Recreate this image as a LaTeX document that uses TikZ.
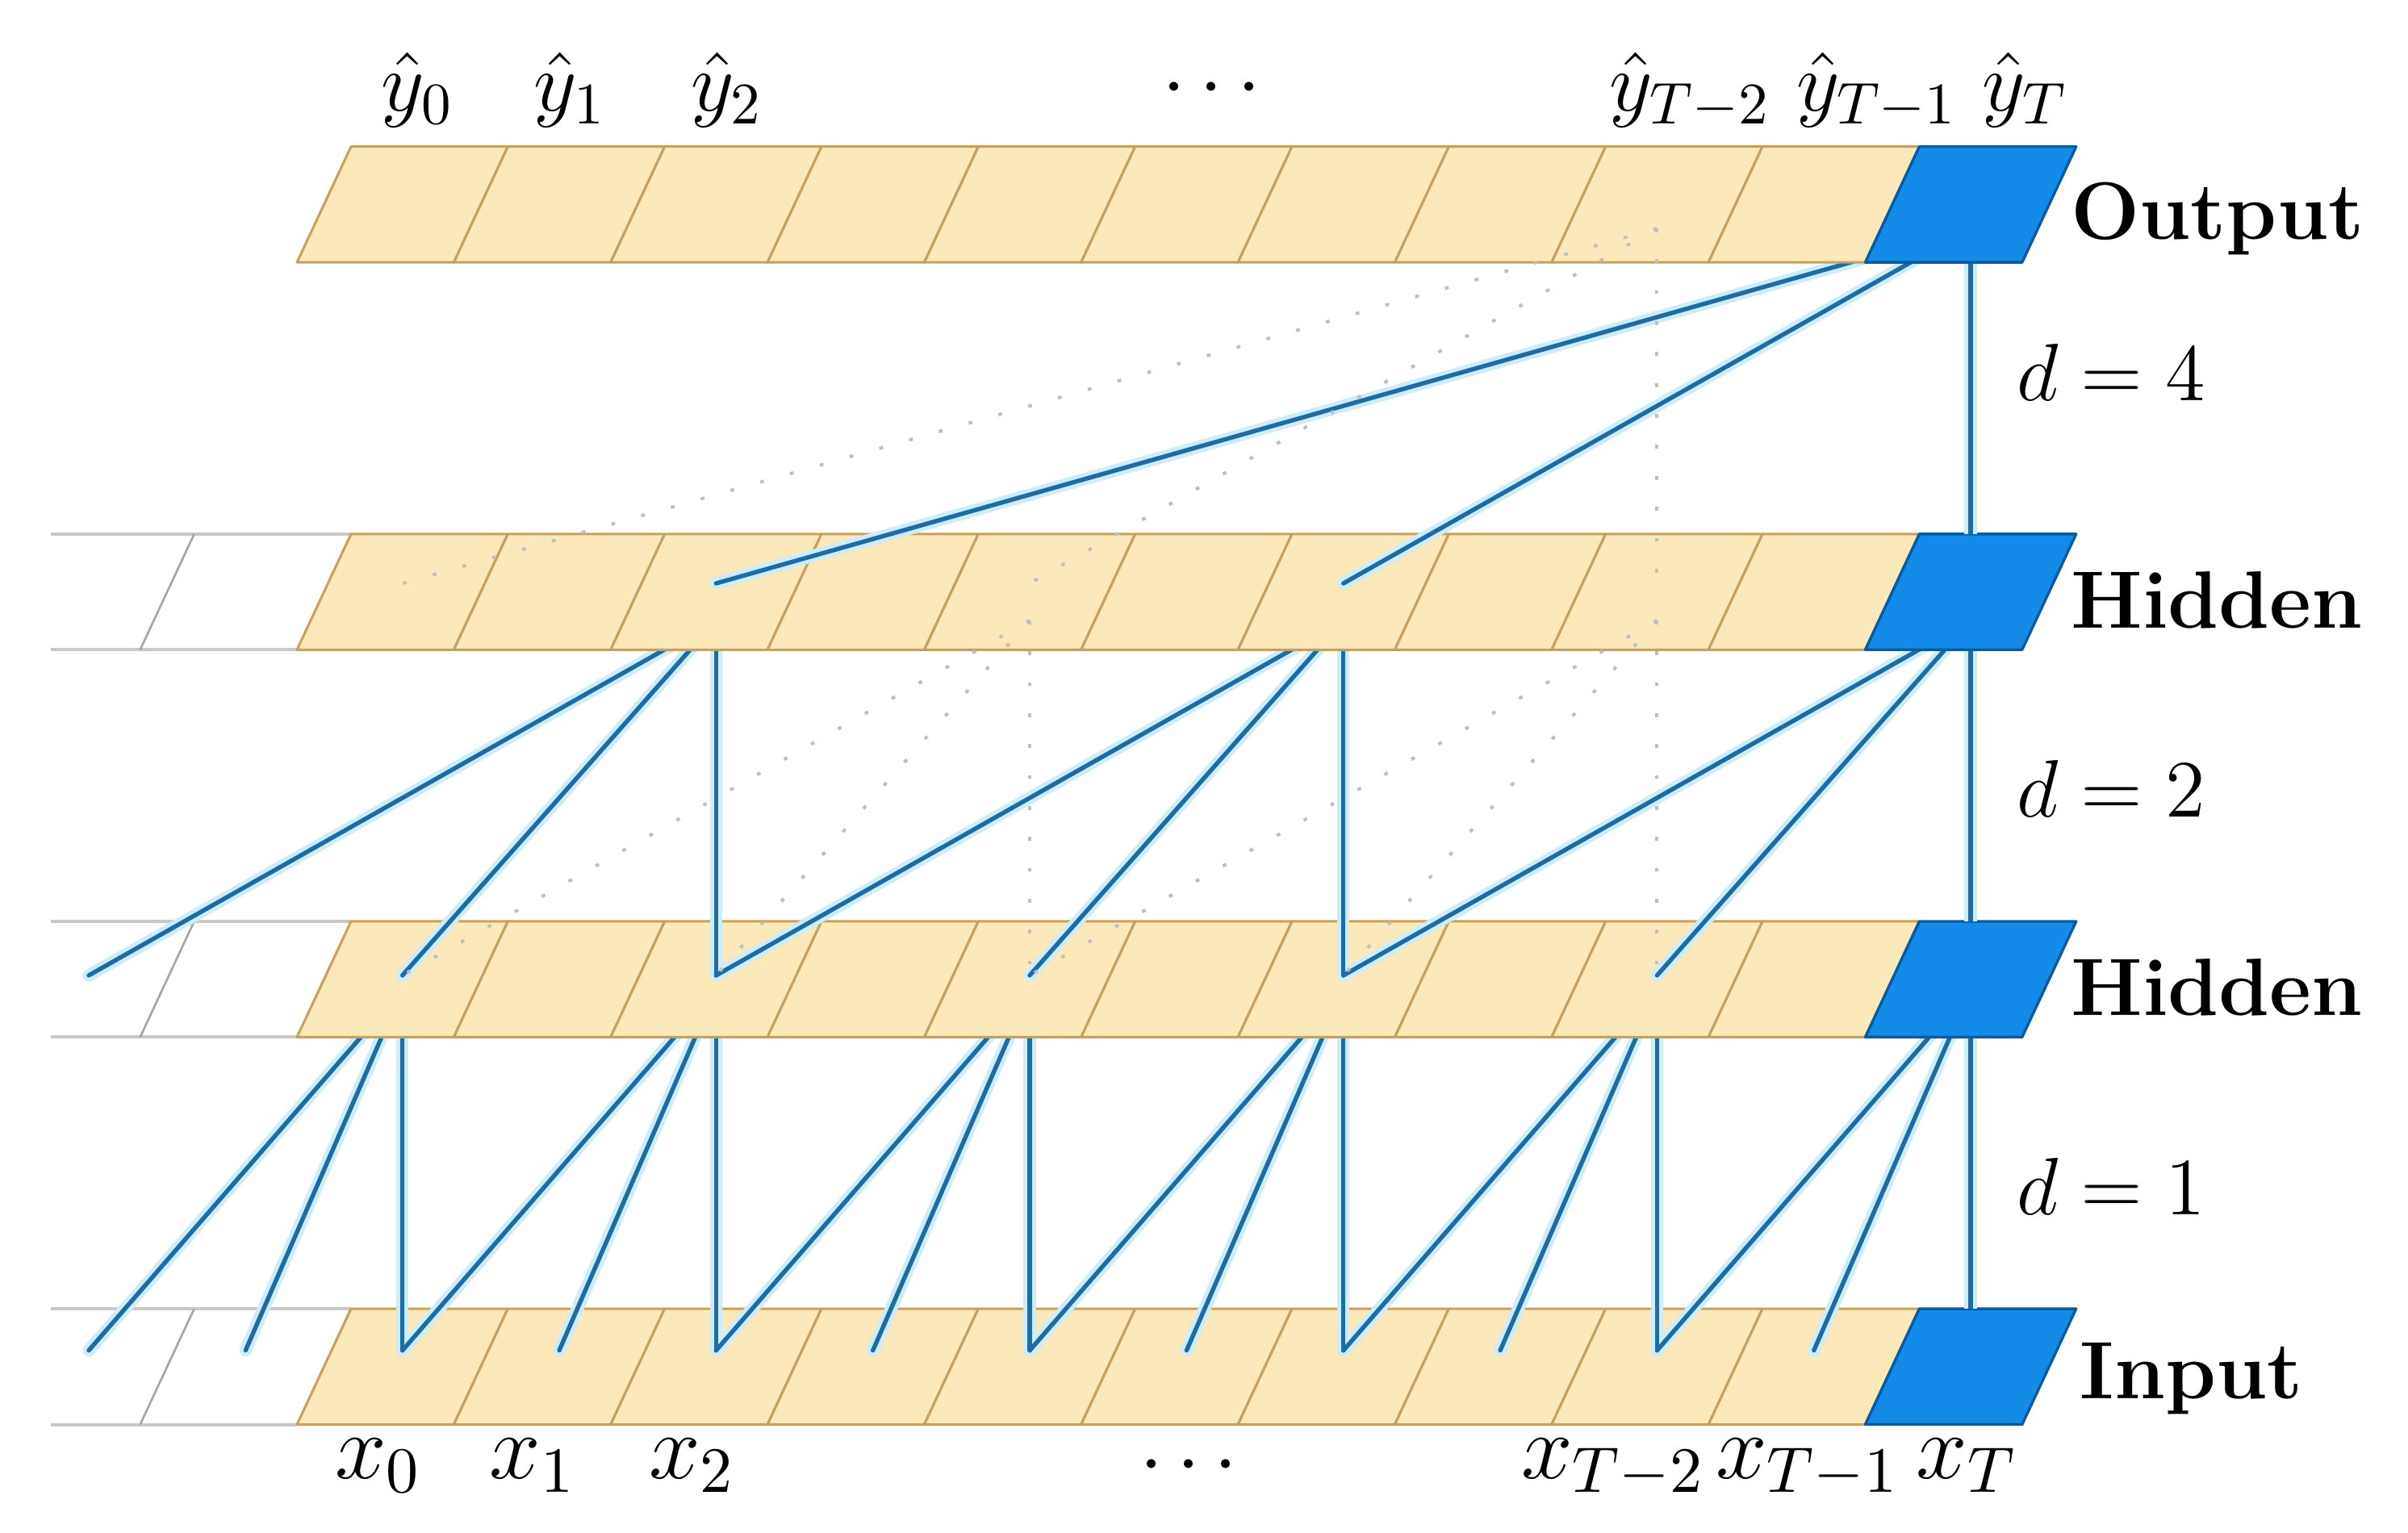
\documentclass[tikz,border=0pt]{standalone}
\DeclareFontFamily{OML}{cmm}{\skewchar\font'177}
\DeclareFontShape{OML}{cmm}{m}{it}{<-6>cmmi5<6-7>cmmi6<7-8>cmmi7<8-9>cmmi8<9-10>cmmi9<10-12>cmmi10<12->cmmi12}{}
\DeclareFontFamily{OMS}{cmsy}{\skewchar\font'60}
\DeclareFontShape{OMS}{cmsy}{m}{n}{<-6>cmsy5<6-7>cmsy6<7-8>cmsy7<8-9>cmsy8<9-10>cmsy9<10->cmsy10}{}
\DeclareFontFamily{OT1}{cmr}{\hyphenchar\font45}
\DeclareFontShape{OT1}{cmr}{m}{n}{<-6>cmr5<6-7>cmr6<7-8>cmr7<8-9>cmr8<9-10>cmr9<10-12>cmr10<12-17>cmr12<17->cmr17}{}
\definecolor{beige}{RGB}{251,233,186}
\definecolor{tanline}{RGB}{200,160,92}
\definecolor{cellblue}{RGB}{18,140,232}
\definecolor{cellblueline}{RGB}{10,90,160}
\definecolor{linkblue}{RGB}{28,108,165}
\definecolor{halo}{RGB}{205,237,250}
\definecolor{ghost}{RGB}{200,200,200}

\newcommand{\cellrow}[2]{%
  \pgfmathsetmacro{\rt}{#1}%
  \pgfmathsetmacro{\rb}{#1+75}%
  \ifnum#2=1
    \draw[ghostline] (33,\rt) -- (227.4,\rt);
    \draw[ghostline] (33,\rb) -- (192.4,\rb);
    \draw[ghostdiv] (90.8,\rb) -- (125.8,\rt);
  \fi
  \foreach \i in {0,...,9} {
    \pgfmathsetmacro{\xb}{192.4+101.6*\i}
    \draw[cellbeige] (\xb,\rb) -- ++(101.6,0) -- ++(35,-75) -- ++(-101.6,0) -- cycle;
  }
  \draw[cellbluestyle] (1208.4,\rb) -- ++(101.6,0) -- ++(35,-75) -- ++(-101.6,0) -- cycle;
}

\begin{document}
\begin{tikzpicture}[x=0.01cm,y=-0.01cm,
  cellbeige/.style={fill=beige,draw=tanline,line width=0.45pt,line join=round},
  cellbluestyle/.style={fill=cellblue,draw=cellblueline,line width=0.5pt,line join=round},
  ghostline/.style={draw=ghost,line width=0.6pt},
  ghostdiv/.style={draw=black!35,line width=0.4pt},
  haloline/.style={draw=halo,line width=2.3pt,line cap=round},
  link/.style={draw=linkblue,line width=0.8pt,line cap=round},
  flat/.style={line cap=butt},
  faint/.style={draw=black!25,line width=0.6pt,dash pattern=on 0.7pt off 5pt},
  lbl/.style={inner sep=0pt,anchor=base,font=\fontsize{15.5}{18}\selectfont},
  xlbl/.style={inner sep=0pt,anchor=base,font=\fontsize{17}{20}\selectfont},
  rowlbl/.style={inner sep=0pt,anchor=base west,font=\fontsize{15}{18}\selectfont\bfseries},
  dlbl/.style={inner sep=0pt,anchor=base west,font=\fontsize{15}{18}\selectfont},
]
\fill[white] (0,0) rectangle (1560,992.8);
\useasboundingbox (0,0) rectangle (1560,992.8);

% connection points of each cell
\foreach \i in {-2,...,9} {
  \pgfmathsetmacro{\cx}{260.7+101.6*\i}
  \coordinate (os\i) at (\cx,148);
  \coordinate (ut\i) at (\cx,378);
  \coordinate (us\i) at (\cx,402);
  \coordinate (lt\i) at (\cx,632);
  \coordinate (ls\i) at (\cx,641);
  \coordinate (nt\i) at (\cx,875);
}
% the last (blue) cells: links end on their top edge
\coordinate (os10) at (1276.7,148);
\coordinate (ut10) at (1276.7,346);
\coordinate (us10) at (1276.7,402);
\coordinate (lt10) at (1276.7,597);
\coordinate (ls10) at (1276.7,641);
\coordinate (nt10) at (1276.7,848);

% input row
\cellrow{848}{1}
% d = 1 connections
\foreach \j in {0,2,...,10} {
  \pgfmathtruncatemacro{\a}{\j-2}
  \pgfmathtruncatemacro{\b}{\j-1}
  \draw[haloline] (ls\j) -- (nt\a);
  \draw[haloline] (ls\j) -- (nt\b);
}
\foreach \j in {0,2,...,8} { \draw[haloline] (ls\j) -- (nt\j); }
\draw[haloline,flat] (ls10) -- (nt10);
\foreach \j in {0,2,...,10} {
  \pgfmathtruncatemacro{\a}{\j-2}
  \pgfmathtruncatemacro{\b}{\j-1}
  \draw[link] (ls\j) -- (nt\a);
  \draw[link] (ls\j) -- (nt\b);
}
\foreach \j in {0,2,...,8} { \draw[link] (ls\j) -- (nt\j); }
\draw[link,flat] (ls10) -- (nt10);

% lower hidden row
\cellrow{597}{1}
% d = 2 connections
\foreach \j in {2,6,10} {
  \pgfmathtruncatemacro{\a}{\j-4}
  \pgfmathtruncatemacro{\b}{\j-2}
  \draw[haloline] (us\j) -- (lt\a);
  \draw[haloline] (us\j) -- (lt\b);
}
\foreach \j in {2,6} { \draw[haloline] (us\j) -- (lt\j); }
\draw[haloline,flat] (us10) -- (lt10);
\foreach \j in {2,6,10} {
  \pgfmathtruncatemacro{\a}{\j-4}
  \pgfmathtruncatemacro{\b}{\j-2}
  \draw[link] (us\j) -- (lt\a);
  \draw[link] (us\j) -- (lt\b);
}
\foreach \j in {2,6} { \draw[link] (us\j) -- (lt\j); }
\draw[link,flat] (us10) -- (lt10);

% upper hidden row
\cellrow{346}{1}
% d = 4 connections
\foreach \k in {2,6} { \draw[haloline] (os10) -- (ut\k); }
\draw[haloline,flat] (os10) -- (ut10);
\foreach \k in {2,6} { \draw[link] (os10) -- (ut\k); }
\draw[link,flat] (os10) -- (ut10);

% output row
\cellrow{95}{0}

% faint dotted connections
\foreach \k in {0,4,8} { \draw[faint] (os8) -- (ut\k); }
\foreach \k in {0,2,4} { \draw[faint] (us4) -- (lt\k); }
\foreach \k in {4,6,8} { \draw[faint] (us8) -- (lt\k); }

% output labels
\node[lbl] (yh0) at (270.5,72) {$\hat{y}_0$};
\node[lbl] (yh1) at (369.5,72) {$\hat{y}_1$};
\node[lbl] (yh2) at (471,72) {$\hat{y}_2$};
\node[lbl] (ydots) at (785,70) {$\cdots$};
\node[lbl] (yhT2) at (1095,72) {$\hat{y}_{T-2}$};
\node[lbl] (yhT1) at (1216,72) {$\hat{y}_{T-1}$};
\node[lbl] (yhT) at (1312,72) {$\hat{y}_T$};

% input labels
\node[xlbl] (x0) at (245,958) {$x_0$};
\node[xlbl] (x1) at (345,958) {$x_1$};
\node[xlbl] (x2) at (448.4,958) {$x_2$};
\node[lbl] (xdots) at (770,962) {$\cdots$};
\node[xlbl] (xT2) at (1045,958) {$x_{T-2}$};
\node[xlbl] (xT1) at (1171,958) {$x_{T-1}$};
\node[xlbl] (xT) at (1274,958) {$x_T$};

% layer names
\node[rowlbl] (lout) at (1341,155) {Output};
\node[rowlbl] (lhid2) at (1341,407) {Hidden};
\node[rowlbl] (lhid1) at (1341,658) {Hidden};
\node[rowlbl] (linp) at (1347,906) {Input};

% dilation labels
\node[dlbl] (d4) at (1306,259.6) {$d=4$};
\node[dlbl] (d2) at (1306,529.5) {$d=2$};
\node[dlbl] (d1) at (1306,787) {$d=1$};
\end{tikzpicture}
\end{document}
